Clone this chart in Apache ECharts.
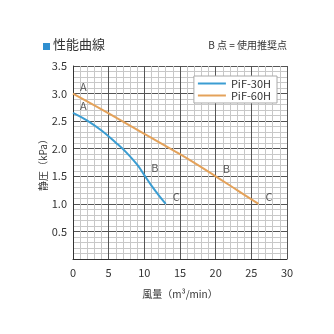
<!DOCTYPE html>
<html><head><meta charset="utf-8">
<script src="https://cdn.jsdelivr.net/npm/echarts@6/dist/echarts.min.js"></script>
<style>html,body{margin:0;padding:0;background:#fff}#c{width:334px;height:334px}</style>
</head><body><div id="c"></div>
<script>
const seriesNames = ['PiF-30H', 'PiF-60H'];
const pif30H = [[0,2.65],[2,2.51],[4,2.33],[6,2.11],[7.5,1.93],[9,1.71],[10,1.52],[11,1.33],[12,1.16],[13,1.0]];
const pif60H = [[0,3.0],[5,2.64],[10,2.27],[15,1.9],[20,1.5],[23,1.25],[26,1.0]];
const pointLabels30 = [[0,2.65,'A'],[10,1.52,'B'],[13,1.0,'C']];
const pointLabels60 = [[0,3.0,'A'],[20,1.5,'B'],[26,1.0,'C']];
const xTicks = {min:0, max:30, interval:5};
const yTicks = {min:0, max:3.5, interval:0.5};
const titleText = '性能曲線';
const noteText = 'B 点 = 使用推奨点';
const xName = '風量（m³/min）';
const yName = '静圧（kPa）';

const colors = ['#3b9dd2', '#e4a25a'];
const font = '"Noto Sans CJK JP", "Noto Sans", sans-serif';
const chart = echarts.init(document.getElementById('c'));
function labelSeries(pts){
  return {type:'scatter', data: pts.map(p=>({value:[p[0],p[1]], name:p[2]})), symbolSize:0, silent:true,
    label:{show:true, formatter:'{b}', position:'right', offset:[2,-7], color:'#333', fontSize:11, fontFamily:font},
    tooltip:{show:false}, z:5};
}
chart.setOption({
  animation:false,
  textStyle:{fontFamily:font},
  graphic:[
    {type:'rect', shape:{x:43,y:43,width:7,height:7}, style:{fill:'#2f8fd0'}},
    {type:'text', left:53, top:38, style:{text:titleText, fill:'#333', font:'13px '+font}},
    {type:'text', right:47, top:40, style:{text:noteText, fill:'#333', font:'10px '+font}}
  ],
  grid:{left:73, right:47, top:66, bottom:75, containLabel:false},
  legend:{data:seriesNames, orient:'vertical', right:57, top:76, itemWidth:28, itemHeight:2, itemGap:1,
    backgroundColor:'#fff', borderColor:'#aaa', borderWidth:1, padding:[2,6,2,4],
    textStyle:{color:'#333', fontSize:11, fontFamily:font}, icon:'rect'},
  xAxis:{type:'value', min:xTicks.min, max:xTicks.max, interval:xTicks.interval,
    name:xName, nameLocation:'middle', nameGap:30, nameMoveOverlap:false, nameTextStyle:{color:'#333', fontSize:10},
    axisLine:{show:true, lineStyle:{color:'#333'}}, axisTick:{show:false},
    axisLabel:{color:'#333', fontSize:11, margin:8},
    splitLine:{show:true, lineStyle:{color:'#555', width:1}},
    minorTick:{show:false, splitNumber:5},
    minorSplitLine:{show:true, lineStyle:{color:'#c8c8c8', width:1}}},
  yAxis:{type:'value', min:yTicks.min, max:yTicks.max, interval:yTicks.interval,
    name:yName, nameLocation:'middle', nameGap:25, nameMoveOverlap:false, nameRotate:90, nameTextStyle:{color:'#333', fontSize:10},
    axisLine:{show:true, lineStyle:{color:'#333'}}, axisTick:{show:false},
    axisLabel:{color:'#333', fontSize:11, margin:6, formatter:v=>v===0?'':v.toFixed(1)},
    splitLine:{show:true, lineStyle:{color:'#555', width:1}},
    minorTick:{show:false, splitNumber:5},
    minorSplitLine:{show:true, lineStyle:{color:'#c8c8c8', width:1}}},
  series:[
    {name:seriesNames[0], type:'line', data:pif30H, smooth:0.4, showSymbol:false, lineStyle:{color:colors[0], width:2}, itemStyle:{color:colors[0]}, z:4},
    {name:seriesNames[1], type:'line', data:pif60H, smooth:0.4, showSymbol:false, lineStyle:{color:colors[1], width:2}, itemStyle:{color:colors[1]}, z:4},
    labelSeries(pointLabels30), labelSeries(pointLabels60)
  ]
});
</script></body></html>
